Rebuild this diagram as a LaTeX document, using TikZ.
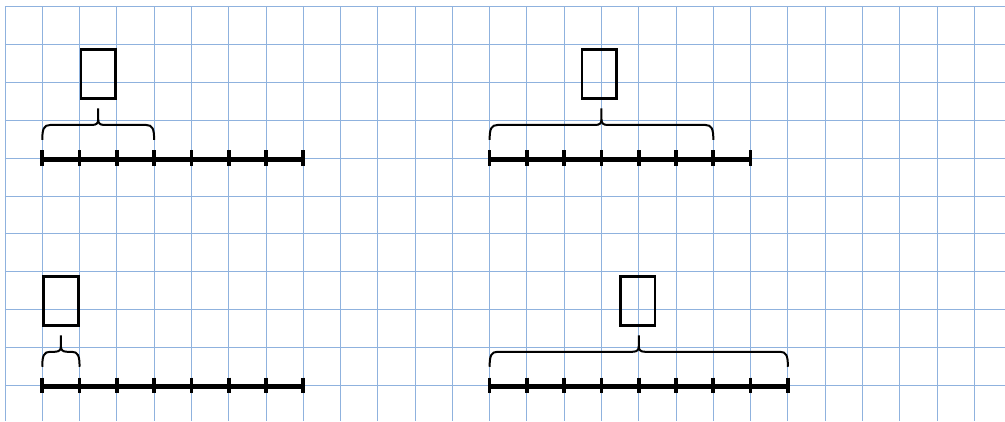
\documentclass[tikz,border=0pt]{standalone}
\usetikzlibrary{calc}
\definecolor{gridblue}{RGB}{143,178,222}
\tikzset{
  gridline/.style={draw=gridblue,line width=0.9pt},
  axisline/.style={draw=black,line width=5pt},
  tickline/.style={draw=black,line width=3.7pt},
  bracestyle/.style={draw=black,line width=2pt},
  ansbox/.style={draw=black,line width=2.7pt,minimum width=34.7pt,minimum height=49pt,inner sep=0pt}
}
\newcommand{\numline}[3]{%
  \draw[axisline] (#1,#3+0.03) -- (#2,#3+0.03);
  \foreach \k in {#1,...,#2} \draw[tickline] (\k,#3-0.205) -- (\k,#3+0.205);
}
\newcommand{\gbrace}[3]{%
  \coordinate (bL) at (#1,#3);
  \coordinate (bR) at (#2,#3);
  \coordinate (bM) at ($(bL)!0.5!(bR)$);
  \draw[bracestyle] (bL) .. controls ($(bL)+(0,11pt)$) and ($(bL)+(1.5pt,15pt)$) .. ($(bL)+(8pt,15pt)$)
     -- ($(bM)+(-6pt,15pt)$) .. controls ($(bM)+(-1.5pt,15pt)$) and ($(bM)+(0,17pt)$) .. ($(bM)+(0,20.5pt)$)
     -- ($(bM)+(0,31.5pt)$);
  \draw[bracestyle] (bR) .. controls ($(bR)+(0,11pt)$) and ($(bR)+(-1.5pt,15pt)$) .. ($(bR)+(-8pt,15pt)$)
     -- ($(bM)+(6pt,15pt)$) .. controls ($(bM)+(1.5pt,15pt)$) and ($(bM)+(0,17pt)$) .. ($(bM)+(0,20.5pt)$);
}
\begin{document}
\begin{tikzpicture}[x=37.28pt,y=-37.86pt]
\useasboundingbox (-0.1341,-0.177) rectangle (26.824,10.943);
\fill[white] (-0.1341,-0.177) rectangle (26.824,10.943);
% grid
\foreach \i in {0,...,26} \draw[gridline] (\i,0) -- (\i,10.943);
\foreach \j in {0,...,10} \draw[gridline] (0,\j) -- (26.824,\j);
% number lines
\numline{1}{8}{4}
\numline{13}{20}{4}
\numline{1}{8}{10}
\numline{13}{21}{10}
% braces
\gbrace{1}{4}{3.52}
\gbrace{13}{19}{3.52}
\gbrace{1}{2}{9.51}
\gbrace{13}{21}{9.51}
% answer boxes
\node[ansbox] (boxA) at (2.5,1.78) {};
\node[ansbox] (boxB) at (15.94,1.78) {};
\node[ansbox] (boxC) at (1.5,7.78) {};
\node[ansbox] (boxD) at (16.97,7.78) {};
\end{tikzpicture}
\end{document}
